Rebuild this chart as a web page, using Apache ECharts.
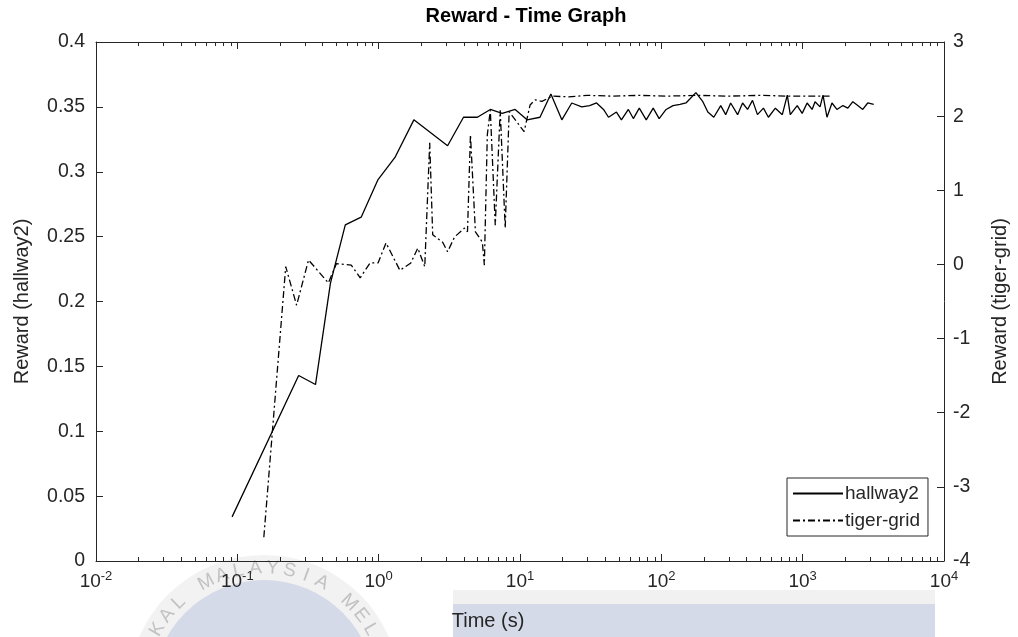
<!DOCTYPE html>
<html>
<head>
<meta charset="utf-8">
<script src="https://cdn.jsdelivr.net/npm/echarts@6/dist/echarts.min.js"></script>
<style>
  html, body { margin: 0; padding: 0; background: #fff; }
  #chart { width: 1018px; height: 637px; }
</style>
</head>
<body>
<div id="chart"></div>
<script>
// hallway2 (left axis)
var hallwayTime = [0.0918, 0.2716, 0.3573, 0.4556, 0.5806, 0.752, 0.990, 1.304, 1.774, 3.074,
	3.983, 4.994, 6.166, 7.485, 9.24, 11.22, 13.85, 16.54, 19.77,
	23.24, 27.32, 31.09, 34.81, 38.99, 42.29, 48.13, 52.18, 58.44, 63.38,
	69.82, 78.20, 87.59, 96.5, 108.1, 121.0, 135.6, 149.4, 175.6, 196.7,
	213.3, 235.0, 263.2, 285.4, 309.4, 346.5, 375.7, 407.4, 441.7, 478.8,
	527.8, 572.1, 641.0, 717.8, 778.4, 817.1, 915.0, 992, 1075, 1166,
	1224, 1327, 1393, 1486, 1612, 1747, 1926, 2088, 2264, 2455,
	2661, 2886, 3181];
var hallwayReward = [0.034, 0.143, 0.136, 0.214, 0.259, 0.265, 0.294, 0.311, 0.340, 0.320,
	0.342, 0.342, 0.348, 0.345, 0.348, 0.340, 0.342, 0.360, 0.340,
	0.353, 0.350, 0.351, 0.353, 0.348, 0.342, 0.346, 0.340, 0.348, 0.341,
	0.349, 0.340, 0.349, 0.341, 0.348, 0.351, 0.352, 0.353, 0.361, 0.354,
	0.346, 0.342, 0.351, 0.344, 0.353, 0.344, 0.353, 0.348, 0.355, 0.344,
	0.349, 0.342, 0.349, 0.344, 0.359, 0.344, 0.351, 0.345, 0.353, 0.348,
	0.354, 0.350, 0.359, 0.342, 0.353, 0.348, 0.351, 0.349, 0.354, 0.351,
	0.348, 0.353, 0.352];

// tiger-grid (right axis)
var tigerTime = [0.154, 0.220, 0.2627, 0.3190, 0.4410, 0.5018, 0.6397, 0.7401, 0.8701, 0.990,
	1.127, 1.414, 1.689, 1.891, 2.119, 2.297, 2.412, 2.836, 3.074, 3.443,
	4.048, 4.250, 4.461, 4.836, 5.416, 5.594, 5.872, 6.166, 6.683, 7.245,
	7.857, 8.381, 9.089, 10.69, 11.78, 12.77, 14.30,
	17.0, 22, 30, 45, 70, 110, 180, 300, 500, 800, 1200, 1550];
var tigerReward = [-3.68, -0.03, -0.55, 0.06, -0.25, 0.01, -0.01, -0.18, 0.02, 0.02,
	0.29, -0.08, 0.02, 0.22, -0.03, 1.64, 0.40, 0.30, 0.17, 0.37,
	0.49, 0.44, 1.75, 0.44, 0.30, -0.01, 1.75, 2.08, 0.53, 2.08,
	0.49, 2.06, 1.97, 1.79, 2.15, 2.22, 2.20,
	2.27, 2.26, 2.28, 2.27, 2.28, 2.27, 2.28, 2.27, 2.28, 2.27, 2.27, 2.27];

var xTickExponents = ['-2', '-1', '0', '1', '2', '3', '4'];
var legendNames = ['hallway2', 'tiger-grid'];

var ink = '#262626';
var font = 'Liberation Sans, Arial, sans-serif';

function zip(xs, ys) {
	var out = [];
	for (var i = 0; i < xs.length; i++) out.push([xs[i], ys[i]]);
	return out;
}

// watermark bits (seal + band behind the x label)
var sealCx = 264, sealCy = 691;
var sealText = 'TEKNIKAL MALAYSIA MELAKA';
var watermark = [
	{ type: 'rect', z: -10, shape: { x: 453, y: 590, width: 482, height: 14 }, style: { fill: '#f1f1f1' } },
	{ type: 'rect', z: -10, shape: { x: 453, y: 604, width: 482, height: 33 }, style: { fill: '#d5dae8' } },
	{ type: 'circle', z: -10, shape: { cx: sealCx, cy: sealCy, r: 136 }, style: { fill: '#f2f2f2' } },
	{ type: 'circle', z: -10, shape: { cx: sealCx, cy: sealCy, r: 111 }, style: { fill: '#d5dae8' } }
];
for (var i = 0; i < sealText.length; i++) {
	if (sealText[i] === ' ') continue;
	var th = (i - 12.5) * 8 * Math.PI / 180;
	watermark.push({
		type: 'text', z: -9,
		x: sealCx + 123 * Math.sin(th),
		y: sealCy - 123 * Math.cos(th),
		rotation: -th,
		style: { text: sealText[i], fill: '#c2c2c2', font: '19px ' + font, align: 'center', verticalAlign: 'middle' }
	});
}

var chart = echarts.init(document.getElementById('chart'));

var logAxisBase = {
	type: 'log',
	logBase: 10,
	min: 0.01,
	max: 10000,
	splitNumber: 6,
	axisLine: { show: true, onZero: false, lineStyle: { color: ink, width: 1 } },
	axisTick: { show: true, inside: true, length: 7, lineStyle: { color: ink } },
	minorTick: { show: true, splitNumber: 9, length: 4, lineStyle: { color: ink } },
	splitLine: { show: false },
	minorSplitLine: { show: false }
};

var option = {
	backgroundColor: '#fff',
	animation: false,
	textStyle: { fontFamily: font, color: ink },
	title: {
		text: 'Reward - Time Graph',
		left: 521,
		textAlign: 'center',
		top: 1,
		textStyle: { fontFamily: font, fontSize: 20, fontWeight: 'bold', color: '#000' }
	},
	grid: { left: 96, right: 68, top: 42, bottom: 76 },
	graphic: watermark,
	legend: {
		orient: 'vertical',
		left: 787,
		top: 478,
		data: legendNames,
		backgroundColor: '#fff',
		borderColor: ink,
		borderWidth: 1,
		borderRadius: 0,
		padding: [6, 8, 6, 5],
		itemGap: 8,
		itemWidth: 50,
		itemHeight: 14,
		itemStyle: { opacity: 0 },
		textStyle: { fontFamily: font, fontSize: 19, color: ink, padding: [0, 0, 0, -3] }
	},
	xAxis: [
		Object.assign({}, logAxisBase, {
			position: 'bottom',
			name: 'Time (s)',
			nameLocation: 'middle',
			nameGap: 50,
			nameTextStyle: { fontFamily: font, fontSize: 20, color: ink, padding: [0, 64, 0, 0] },
			axisLabel: {
				margin: 9,
				formatter: function (v) {
					var e = Math.round(Math.log10(v));
					return '{b|10}{s|' + xTickExponents[e + 2] + '}';
				},
				rich: {
					b: { fontFamily: font, fontSize: 19, color: ink },
					s: { fontFamily: font, fontSize: 13, color: ink, padding: [0, 0, 10, 0] }
				}
			}
		}),
		Object.assign({}, logAxisBase, {
			position: 'top',
			axisLabel: { show: false }
		})
	],
	yAxis: [
		{
			type: 'value',
			position: 'left',
			min: 0,
			max: 0.4,
			interval: 0.05,
			name: 'Reward (hallway2)',
			nameLocation: 'middle',
			nameRotate: 90,
			nameGap: 64,
			nameTextStyle: { fontFamily: font, fontSize: 20, color: ink },
			axisLine: { show: true, lineStyle: { color: ink } },
			axisTick: { show: true, inside: true, length: 7, lineStyle: { color: ink } },
			axisLabel: { fontFamily: font, fontSize: 19.5, color: ink, margin: 11 },
			splitLine: { show: false }
		},
		{
			type: 'value',
			position: 'right',
			min: -4,
			max: 3,
			interval: 1,
			name: 'Reward (tiger-grid)',
			nameLocation: 'middle',
			nameRotate: 90,
			nameGap: 46,
			nameTextStyle: { fontFamily: font, fontSize: 20, color: ink },
			axisLine: { show: true, lineStyle: { color: ink } },
			axisTick: { show: true, inside: true, length: 7, lineStyle: { color: ink } },
			axisLabel: { fontFamily: font, fontSize: 19.5, color: ink, margin: 9 },
			splitLine: { show: false }
		}
	],
	series: [
		{
			name: legendNames[0],
			type: 'line',
			xAxisIndex: 0,
			yAxisIndex: 0,
			data: zip(hallwayTime, hallwayReward),
			symbol: 'none',
			lineStyle: { color: '#000', width: 1.3, type: 'solid' },
			itemStyle: { color: '#000' }
		},
		{
			name: legendNames[1],
			type: 'line',
			xAxisIndex: 0,
			yAxisIndex: 1,
			data: zip(tigerTime, tigerReward),
			symbol: 'none',
			lineStyle: { color: '#000', width: 1.3, type: [7, 3, 2, 3] },
			itemStyle: { color: '#000' }
		}
	]
};

chart.setOption(option);
</script>
</body>
</html>
